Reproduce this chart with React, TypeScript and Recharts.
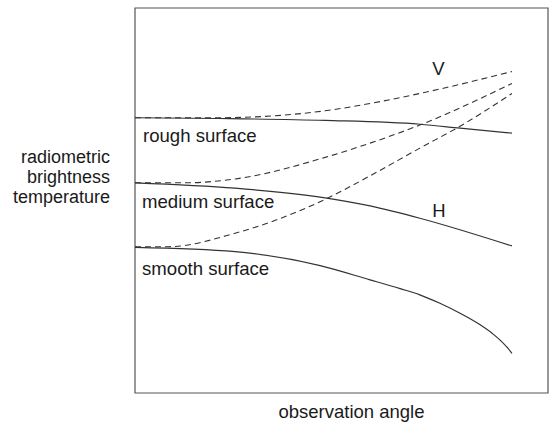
import React from 'react';
import { LineChart, Line, XAxis, YAxis, ReferenceArea, Customized } from 'recharts';

// angle (0..90 across the curves), brightness temperature (relative, 0..100)
const roughH = [
  { x: 0, y: 71.5 }, { x: 19.8, y: 71.3 }, { x: 45.4, y: 70.8 }, { x: 68, y: 69.8 },
  { x: 77.6, y: 68.8 }, { x: 90, y: 67.5 },
];
const roughV = [
  { x: 0, y: 71.5 }, { x: 19.8, y: 71.5 }, { x: 45.4, y: 73.3 }, { x: 56.1, y: 75.2 },
  { x: 68, y: 77.8 }, { x: 90, y: 83.5 },
];
const mediumH = [
  { x: 0, y: 54.6 }, { x: 23.9, y: 53.2 }, { x: 45.4, y: 50.7 }, { x: 56.1, y: 48.6 },
  { x: 68, y: 45.4 }, { x: 90, y: 38.2 },
];
const mediumV = [
  { x: 0, y: 54.6 }, { x: 11.9, y: 54.6 }, { x: 23.9, y: 55.6 }, { x: 45.4, y: 61.2 },
  { x: 56.1, y: 64.9 }, { x: 68, y: 69.6 }, { x: 90, y: 80.4 },
];
const smoothH = [
  { x: 0, y: 37.8 }, { x: 23.9, y: 36.7 }, { x: 44.2, y: 33.1 }, { x: 56.1, y: 29.4 },
  { x: 63.3, y: 27.1 }, { x: 68, y: 25.5 }, { x: 72.8, y: 23.3 }, { x: 77.6, y: 20.7 },
  { x: 82.4, y: 17.7 }, { x: 85.5, y: 15.3 }, { x: 87.1, y: 13.8 }, { x: 88.8, y: 11.9 }, { x: 90, y: 10.3 },
];
const smoothV = [
  { x: 0, y: 38.0 }, { x: 7.9, y: 38.0 }, { x: 23.9, y: 41.5 }, { x: 45.4, y: 50.3 },
  { x: 56.1, y: 56.4 }, { x: 68, y: 63.6 }, { x: 77.6, y: 69.3 }, { x: 90, y: 77.8 },
];

const surfaceLabels = ['rough surface', 'medium surface', 'smooth surface'];
const yLabelLines = ['radiometric', 'brightness', 'temperature'];
const xLabel = 'observation angle';

const FONT = '"Liberation Sans", Arial, sans-serif';
const TXT = '#1a1a1a';
const LINE = '#333333';

const Texts = () => (
  <g fontFamily={FONT} fill={TXT}>
    <text x={143} y={141.5} fontSize={18.6}>{surfaceLabels[0]}</text>
    <text x={142} y={207.5} fontSize={18.6}>{surfaceLabels[1]}</text>
    <text x={142} y={275} fontSize={18.6}>{surfaceLabels[2]}</text>
    <text x={438.5} y={75} fontSize={18.5} textAnchor="middle">V</text>
    <text x={439} y={216.5} fontSize={18.5} textAnchor="middle">H</text>
    {yLabelLines.map((t, i) => (
      <text key={t} x={110} y={162.5 + i * 20} fontSize={18} textAnchor="end">{t}</text>
    ))}
    <text x={351.5} y={418} fontSize={18.5} textAnchor="middle">{xLabel}</text>
  </g>
);

const common = { dataKey: 'y', type: 'monotone' as const, stroke: LINE, dot: false, isAnimationActive: false };

export default function App() {
  return (
    <div style={{ position: 'absolute', left: 0, top: 0 }}>
      <LineChart width={550} height={425} margin={{ top: 8, left: 135, right: 2, bottom: 32 }}>
        <XAxis type="number" dataKey="x" domain={[0, 98.6]} hide allowDataOverflow />
        <YAxis type="number" dataKey="y" domain={[0, 100]} hide allowDataOverflow />
        <ReferenceArea x1={0} x2={98.6} y1={0} y2={100} fill="none" stroke="#555" strokeWidth={1.2} />
        <Line data={roughH} {...common} strokeWidth={1.2} />
        <Line data={mediumH} {...common} strokeWidth={1.2} />
        <Line data={smoothH} {...common} strokeWidth={1.2} />
        <Line data={roughV} {...common} strokeWidth={1.1} strokeDasharray="6 4" />
        <Line data={mediumV} {...common} strokeWidth={1.1} strokeDasharray="6 4" />
        <Line data={smoothV} {...common} strokeWidth={1.1} strokeDasharray="6 4" />
        <Customized component={Texts} />
      </LineChart>
    </div>
  );
}
